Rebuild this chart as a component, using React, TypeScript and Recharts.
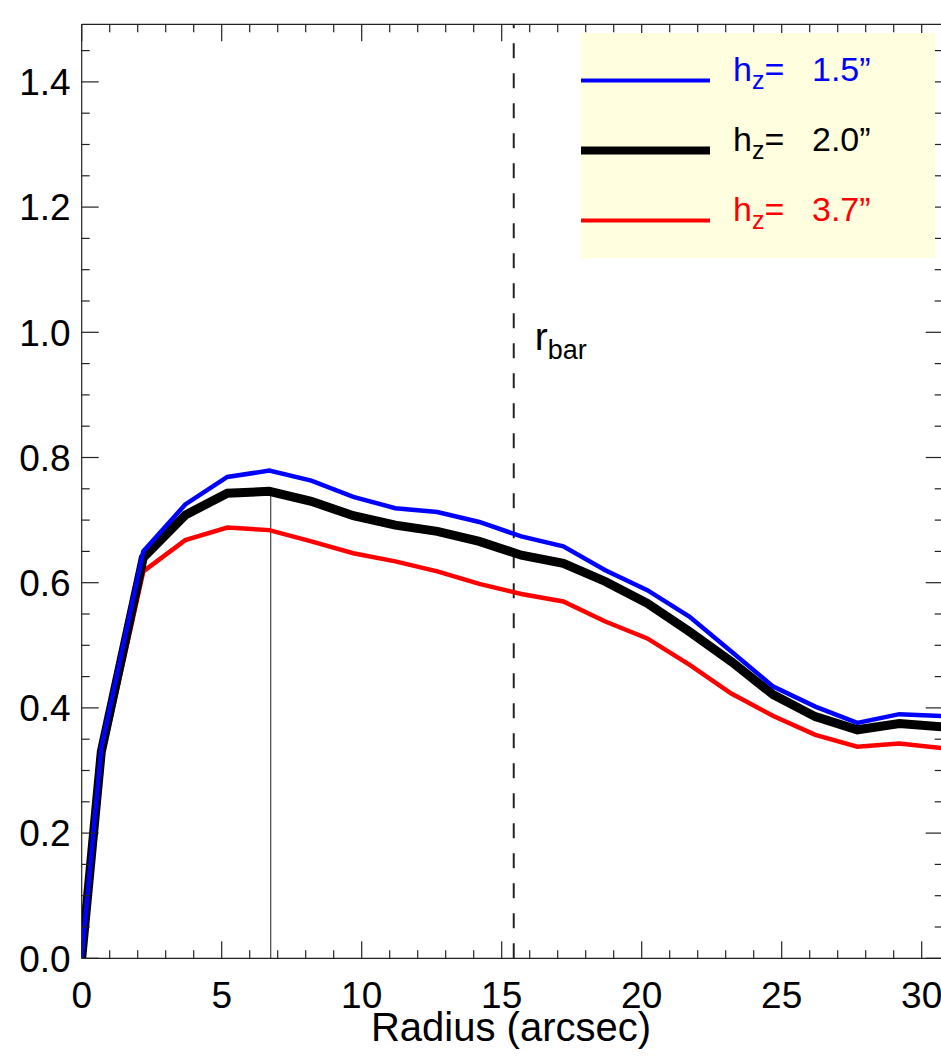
import { LineChart, Line, XAxis, YAxis, ReferenceLine } from "recharts";

// radius (arcsec) of each sampled point
const radius = [0, 0.7, 2.2, 3.7, 5.2, 6.7, 8.2, 9.7, 11.2, 12.7, 14.2, 15.7, 17.2, 18.7, 20.2, 21.7, 23.2, 24.7, 26.2, 27.7, 29.2, 30.7];

const hz15 = [0, 0.336, 0.65, 0.725, 0.769, 0.779, 0.763, 0.737, 0.719, 0.713, 0.697, 0.674, 0.658, 0.62, 0.588, 0.546, 0.49, 0.434, 0.402, 0.376, 0.39, 0.387];
const hz20 = [0, 0.33, 0.64, 0.708, 0.743, 0.746, 0.73, 0.707, 0.692, 0.682, 0.666, 0.644, 0.631, 0.602, 0.567, 0.522, 0.474, 0.421, 0.386, 0.365, 0.375, 0.37];
const hz37 = [0, 0.317, 0.618, 0.668, 0.688, 0.684, 0.666, 0.647, 0.634, 0.618, 0.598, 0.582, 0.57, 0.538, 0.511, 0.469, 0.423, 0.387, 0.357, 0.338, 0.343, 0.336];

const xTicks = [0, 1, 2, 3, 4, 5, 6, 7, 8, 9, 10, 11, 12, 13, 14, 15, 16, 17, 18, 19, 20, 21, 22, 23, 24, 25, 26, 27, 28, 29, 30];
const xLabels = [0, 5, 10, 15, 20, 25, 30];
const yTicks = [0, 0.05, 0.1, 0.15, 0.2, 0.25, 0.3, 0.35, 0.4, 0.45, 0.5, 0.55, 0.6, 0.65, 0.7, 0.75, 0.8, 0.85, 0.9, 0.95, 1.0, 1.05, 1.1, 1.15, 1.2, 1.25, 1.3, 1.35, 1.4, 1.45];
const yLabels = ["0.0", "0.2", "0.4", "0.6", "0.8", "1.0", "1.2", "1.4"];

const rBar = 15.43;
const rPeak = 6.75;
const peakLevel = 0.74;

const series = [
    { key: "hz37", label: "3.7\u201D", color: "#ff0000", width: 4.5 },
    { key: "hz20", label: "2.0\u201D", color: "#000000", width: 9 },
    { key: "hz15", label: "1.5\u201D", color: "#0000ff", width: 4.5 },
];
const legendOrder = ["hz15", "hz20", "hz37"];

const data = radius.map((r, i) => ({ r, hz15: hz15[i], hz20: hz20[i], hz37: hz37[i] }));

const FONT = "'Liberation Sans', Arial, Helvetica, sans-serif";
const AXIS = "#222";

const isMajorY = (v: number) => yLabels.includes(v.toFixed(1)) && Math.abs(v * 10 - Math.round(v * 10)) < 1e-6;

function BottomTick(props: any) {
    const { x, y, payload } = props;
    const major = xLabels.includes(payload.value);
    return (
        <g>
            <line x1={x} x2={x} y1={y} y2={y - (major ? 17 : 8)} stroke={AXIS} strokeWidth={1.2} />
            {major && (
                <text x={x} y={y + 50} textAnchor="middle" fontSize={37} fontFamily={FONT} fill="#000">
                    {payload.value}
                </text>
            )}
        </g>
    );
}

function TopTick(props: any) {
    const { x, y, payload } = props;
    const major = xLabels.includes(payload.value);
    return <line x1={x} x2={x} y1={y} y2={y + (major ? 17 : 8)} stroke={AXIS} strokeWidth={1.2} />;
}

function LeftTick(props: any) {
    const { x, y, payload } = props;
    const major = isMajorY(payload.value);
    return (
        <g>
            <line x1={x} x2={x + (major ? 17 : 8)} y1={y} y2={y} stroke={AXIS} strokeWidth={1.2} />
            {major && (
                <text x={x - 11} y={y} dy="0.36em" textAnchor="end" fontSize={37} fontFamily={FONT} fill="#000">
                    {payload.value.toFixed(1)}
                </text>
            )}
        </g>
    );
}

function RightTick(props: any) {
    const { x, y, payload } = props;
    const major = isMajorY(payload.value);
    return <line x1={x} x2={x - (major ? 17 : 8)} y1={y} y2={y} stroke={AXIS} strokeWidth={1.2} />;
}

function XTitle(props: any) {
    const vb = props.viewBox || { x: 0, y: 0, width: 0 };
    return (
        <text x={vb.x + 429.3} y={vb.y + 83} textAnchor="middle" fontSize={40} fontFamily={FONT} fill="#000">
            Radius (arcsec)
        </text>
    );
}

function RBarLabel(props: any) {
    const vb = props.viewBox || { x: 0, y: 0 };
    return (
        <text x={vb.x + 21} y={vb.y + 326} fontSize={39} fontFamily={FONT} fill="#000">
            r
            <tspan fontSize={27} dy={9}>bar</tspan>
        </text>
    );
}

function LegendBox() {
    const rows = legendOrder.map((k) => series.find((s) => s.key === k)!);
    return (
        <svg
            width={354}
            height={225}
            style={{ position: "absolute", left: 581, top: 33 }}
        >
            <rect x={0} y={0} width={354} height={225} fill="#ffffe0" />
            {rows.map((s, i) => {
                const y = 47.5 + i * 70;
                return (
                    <g key={s.key}>
                        <line x1={0} x2={129} y1={y} y2={y} stroke={s.color} strokeWidth={s.key === "hz20" ? 8 : 4} />
                        <text x={152} y={y} fontSize={34} fontFamily={FONT} fill={s.color}>
                            h
                            <tspan fontSize={25} dy={8}>z</tspan>
                            <tspan fontSize={34} dy={-8}>=</tspan>
                        </text>
                        <text x={231} y={y} fontSize={34} fontFamily={FONT} fill={s.color}>
                            {s.label}
                        </text>
                    </g>
                );
            })}
        </svg>
    );
}

export default function App() {
    return (
        <div style={{ position: "absolute", left: 0, top: 0, width: 941, height: 1057, overflow: "hidden", background: "#fff" }}>
            <LineChart
                width={960}
                height={1057}
                data={data}
                margin={{ top: 23.3, right: 16.3, left: 0, bottom: 38.7 }}
            >
                <XAxis
                    dataKey="r"
                    type="number"
                    domain={[0, 30.75]}
                    allowDataOverflow
                    ticks={xTicks}
                    interval={0}
                    height={60}
                    tickSize={0}
                    tickMargin={0}
                    tickLine={false}
                    tick={<BottomTick />}
                    stroke={AXIS}
                    strokeWidth={1.2}
                    label={<XTitle />}
                />
                <XAxis
                    xAxisId="top"
                    orientation="top"
                    dataKey="r"
                    type="number"
                    domain={[0, 30.75]}
                    allowDataOverflow
                    ticks={xTicks}
                    interval={0}
                    height={1}
                    tickSize={0}
                    tickMargin={0}
                    tickLine={false}
                    tick={<TopTick />}
                    stroke={AXIS}
                    strokeWidth={1.2}
                />
                <YAxis
                    type="number"
                    domain={[0, 1.492]}
                    allowDataOverflow
                    ticks={yTicks}
                    interval={0}
                    width={81.7}
                    tickSize={0}
                    tickMargin={0}
                    tickLine={false}
                    tick={<LeftTick />}
                    stroke={AXIS}
                    strokeWidth={1.2}
                />
                <YAxis
                    yAxisId="right"
                    orientation="right"
                    type="number"
                    domain={[0, 1.492]}
                    allowDataOverflow
                    ticks={yTicks}
                    interval={0}
                    width={1}
                    tickSize={0}
                    tickMargin={0}
                    tickLine={false}
                    tick={<RightTick />}
                    stroke={AXIS}
                    strokeWidth={1.2}
                />
                <ReferenceLine
                    segment={[{ x: rPeak, y: 0 }, { x: rPeak, y: peakLevel }]}
                    stroke="#444"
                    strokeWidth={1.2}
                />
                <ReferenceLine
                    x={rBar}
                    stroke="#222"
                    strokeWidth={2}
                    strokeDasharray="15 15"
                    label={<RBarLabel />}
                />
                {series.map((s) => (
                    <Line
                        key={s.key}
                        dataKey={s.key}
                        type="linear"
                        stroke={s.color}
                        strokeWidth={s.width}
                        strokeLinejoin="miter"
                        dot={false}
                        activeDot={false}
                        isAnimationActive={false}
                    />
                ))}
            </LineChart>
            <LegendBox />
        </div>
    );
}
